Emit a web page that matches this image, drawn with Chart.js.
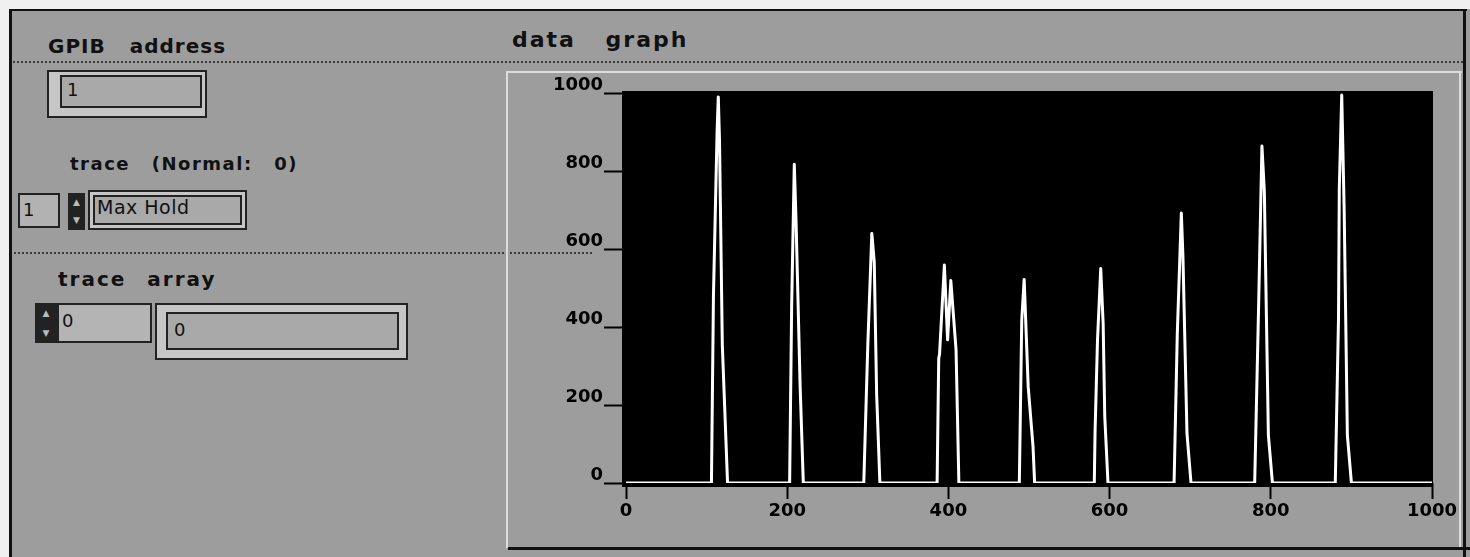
<!DOCTYPE html>
<html>
<head>
<meta charset="utf-8">
<title>data graph</title>
<script src="https://cdn.jsdelivr.net/npm/chart.js@4/dist/chart.umd.min.js"></script>
<style>
    html, body { margin: 0; padding: 0; }
    body {
        width: 1470px;
        height: 557px;
        position: relative;
        overflow: hidden;
        background: #9d9d9d;
        font-family: "DejaVu Sans", sans-serif;
        color: #111;
    }
    .abs { position: absolute; box-sizing: border-box; }
    .lbl { position: absolute; white-space: nowrap; font-weight: bold; color: #111; }
    .txt { position: absolute; white-space: nowrap; color: #111; }
    .outer { border: 2px solid #222; background: #c6c6c6; }
    .inner { border: 2px solid #222; background: #a9a9a9; }
    .spin {
        background: #222; color: #bbb; font-size: 9px; line-height: 9px;
        text-align: center; display: flex; flex-direction: column; justify-content: space-around;
    }
    #chartBox { position: absolute; left: 508px; top: 12px; width: 955px; height: 536px; }
</style>
</head>
<body>
<!-- scan edges -->
<div class="abs" style="left:0;top:0;width:1470px;height:9px;background:#f0f0f0"></div>
<div class="abs" style="left:0;top:0;width:9px;height:557px;background:#f0f0f0"></div>
<div class="abs" style="left:9px;top:9px;width:1458px;height:2px;background:#111"></div>
<div class="abs" style="left:9px;top:9px;width:3px;height:548px;background:#111"></div>
<div class="abs" style="left:1463px;top:9px;width:3px;height:548px;background:#111"></div>

<!-- panel separator lines -->
<div class="abs" style="left:13px;top:61px;width:1450px;height:0;border-top:2px dotted #3a3a3a"></div>
<div class="abs" style="left:14px;top:252px;width:578px;height:0;border-top:2px dotted #3a3a3a"></div>

<!-- graph frame -->
<div class="abs" style="left:506px;top:72px;width:2px;height:476px;background:#dcdcdc"></div>
<div class="abs" style="left:506px;top:71px;width:956px;height:2px;background:#dcdcdc"></div>
<div class="abs" style="left:1459px;top:72px;width:2px;height:476px;background:#dcdcdc"></div>
<div class="abs" style="left:508px;top:547px;width:962px;height:3px;background:#111"></div>

<!-- GPIB address control -->
<div class="lbl" style="left:48px;top:34px;font-size:20px;line-height:24px;letter-spacing:1px;word-spacing:16px">GPIB address</div>
<div class="abs outer" style="left:47px;top:70px;width:160px;height:48px"></div>
<div class="abs inner" style="left:60px;top:75px;width:142px;height:33px"></div>
<div class="txt" style="left:67px;top:79px;font-size:18px;line-height:22px">1</div>

<!-- trace control -->
<div class="lbl" style="left:70px;top:153px;font-size:18px;line-height:22px;letter-spacing:1.5px;word-spacing:14px">trace (Normal: 0)</div>
<div class="abs inner" style="left:18px;top:193px;width:42px;height:35px;background:#b2b2b2"></div>
<div class="txt" style="left:23px;top:199px;font-size:18px;line-height:22px">1</div>
<div class="abs spin" style="left:68px;top:193px;width:17px;height:37px"><span>▲</span><span>▼</span></div>
<div class="abs outer" style="left:88px;top:190px;width:159px;height:40px"></div>
<div class="abs inner" style="left:93px;top:195px;width:149px;height:30px"></div>
<div class="txt" style="left:97px;top:196px;font-size:19px;line-height:22px;letter-spacing:0.5px">Max Hold</div>

<!-- trace array control -->
<div class="lbl" style="left:58px;top:267px;font-size:20px;line-height:24px;letter-spacing:2px;word-spacing:12px">trace array</div>
<div class="abs spin" style="left:35px;top:303px;width:22px;height:40px"><span>▲</span><span>▼</span></div>
<div class="abs inner" style="left:57px;top:303px;width:95px;height:40px;background:#b4b4b4"></div>
<div class="txt" style="left:62px;top:310px;font-size:18px;line-height:22px">0</div>
<div class="abs outer" style="left:155px;top:303px;width:253px;height:57px"></div>
<div class="abs inner" style="left:166px;top:312px;width:233px;height:38px"></div>
<div class="txt" style="left:174px;top:319px;font-size:18px;line-height:22px">0</div>

<!-- graph title -->
<div class="lbl" style="left:512px;top:27px;font-size:22px;line-height:26px;letter-spacing:2px;word-spacing:20px">data graph</div>

<div id="chartBox"><canvas id="dataGraph"></canvas></div>

<script>
// Spectrum trace: x positions and amplitudes
const traceX = [
    0,
    106, 108.5, 113, 114.5, 116, 119.5, 126,
    203, 205.5, 208.8, 211, 216, 220,
    295, 300, 305, 308, 311, 315,
    386, 388, 389, 395, 399, 403, 409.5, 413,
    488, 491, 494, 499, 505, 507,
    581, 582, 585, 589, 592, 594, 598,
    680, 684, 689, 691, 696, 701,
    780, 785, 789, 792, 797, 802,
    880, 884, 885, 888, 891, 895, 900,
    1000
];
const traceY = [
    0,
    0, 480, 900, 990, 880, 354, 0,
    0, 450, 817, 670, 251, 0,
    0, 354, 640, 567, 226, 0,
    0, 320, 330, 559, 367, 519, 341, 0,
    0, 418, 522, 247, 93, 0,
    0, 136, 367, 550, 409, 170, 0,
    0, 384, 692, 580, 127, 0,
    0, 465, 864, 747, 123, 0,
    0, 422, 756, 995, 704, 123, 0,
    0
];
const xTicks = [0, 200, 400, 600, 800, 1000];
const yTicks = [0, 200, 400, 600, 800, 1000];

Chart.defaults.font.family = "'DejaVu Sans', sans-serif";
Chart.defaults.color = '#000';

// black screen behind the trace, a bit larger than the scale range
const screenBg = {
    id: 'screenBg',
    beforeDraw(chart) {
        const a = chart.chartArea;
        const ctx = chart.ctx;
        ctx.save();
        ctx.fillStyle = '#000';
        ctx.fillRect(a.left - 4, a.top - 2, a.right - a.left + 5, a.bottom - a.top + 6);
        ctx.restore();
    }
};

const points = traceX.map((x, i) => ({ x: x, y: traceY[i] }));

new Chart(document.getElementById('dataGraph'), {
    type: 'line',
    data: {
        datasets: [{
            label: 'trace',
            data: points,
            borderColor: '#ffffff',
            borderWidth: 3,
            borderJoinStyle: 'round',
            pointRadius: 0,
            tension: 0,
            fill: false
        }]
    },
    options: {
        responsive: true,
        maintainAspectRatio: false,
        animation: false,
        layout: { padding: { top: 81, right: 31, left: 0, bottom: 0 } },
        plugins: {
            legend: { display: false },
            tooltip: { enabled: false }
        },
        scales: {
            x: {
                type: 'linear',
                min: 0,
                max: 1000,
                afterFit: (scale) => { scale.height = 65; },
                afterBuildTicks: (scale) => { scale.ticks = xTicks.map(v => ({ value: v })); },
                border: { display: false },
                grid: {
                    drawOnChartArea: false,
                    drawTicks: true,
                    tickLength: 16,
                    tickWidth: 2,
                    tickColor: '#000'
                },
                ticks: {
                    padding: 2,
                    maxRotation: 0,
                    font: { size: 18, weight: 'bold' },
                    color: '#000',
                    callback: (v) => String(v)
                }
            },
            y: {
                min: 0,
                max: 1000,
                afterFit: (scale) => { scale.width = 118; },
                afterBuildTicks: (scale) => { scale.ticks = yTicks.map(v => ({ value: v })); },
                border: { display: false },
                grid: {
                    drawOnChartArea: false,
                    drawTicks: true,
                    tickLength: 22,
                    tickWidth: 2,
                    tickColor: '#000'
                },
                ticks: {
                    padding: 1,
                    font: { size: 18, weight: 'bold', lineHeight: 0.8 },
                    color: '#000',
                    callback: (v) => [String(v), '']
                }
            }
        }
    },
    plugins: [screenBg]
});
</script>
</body>
</html>
